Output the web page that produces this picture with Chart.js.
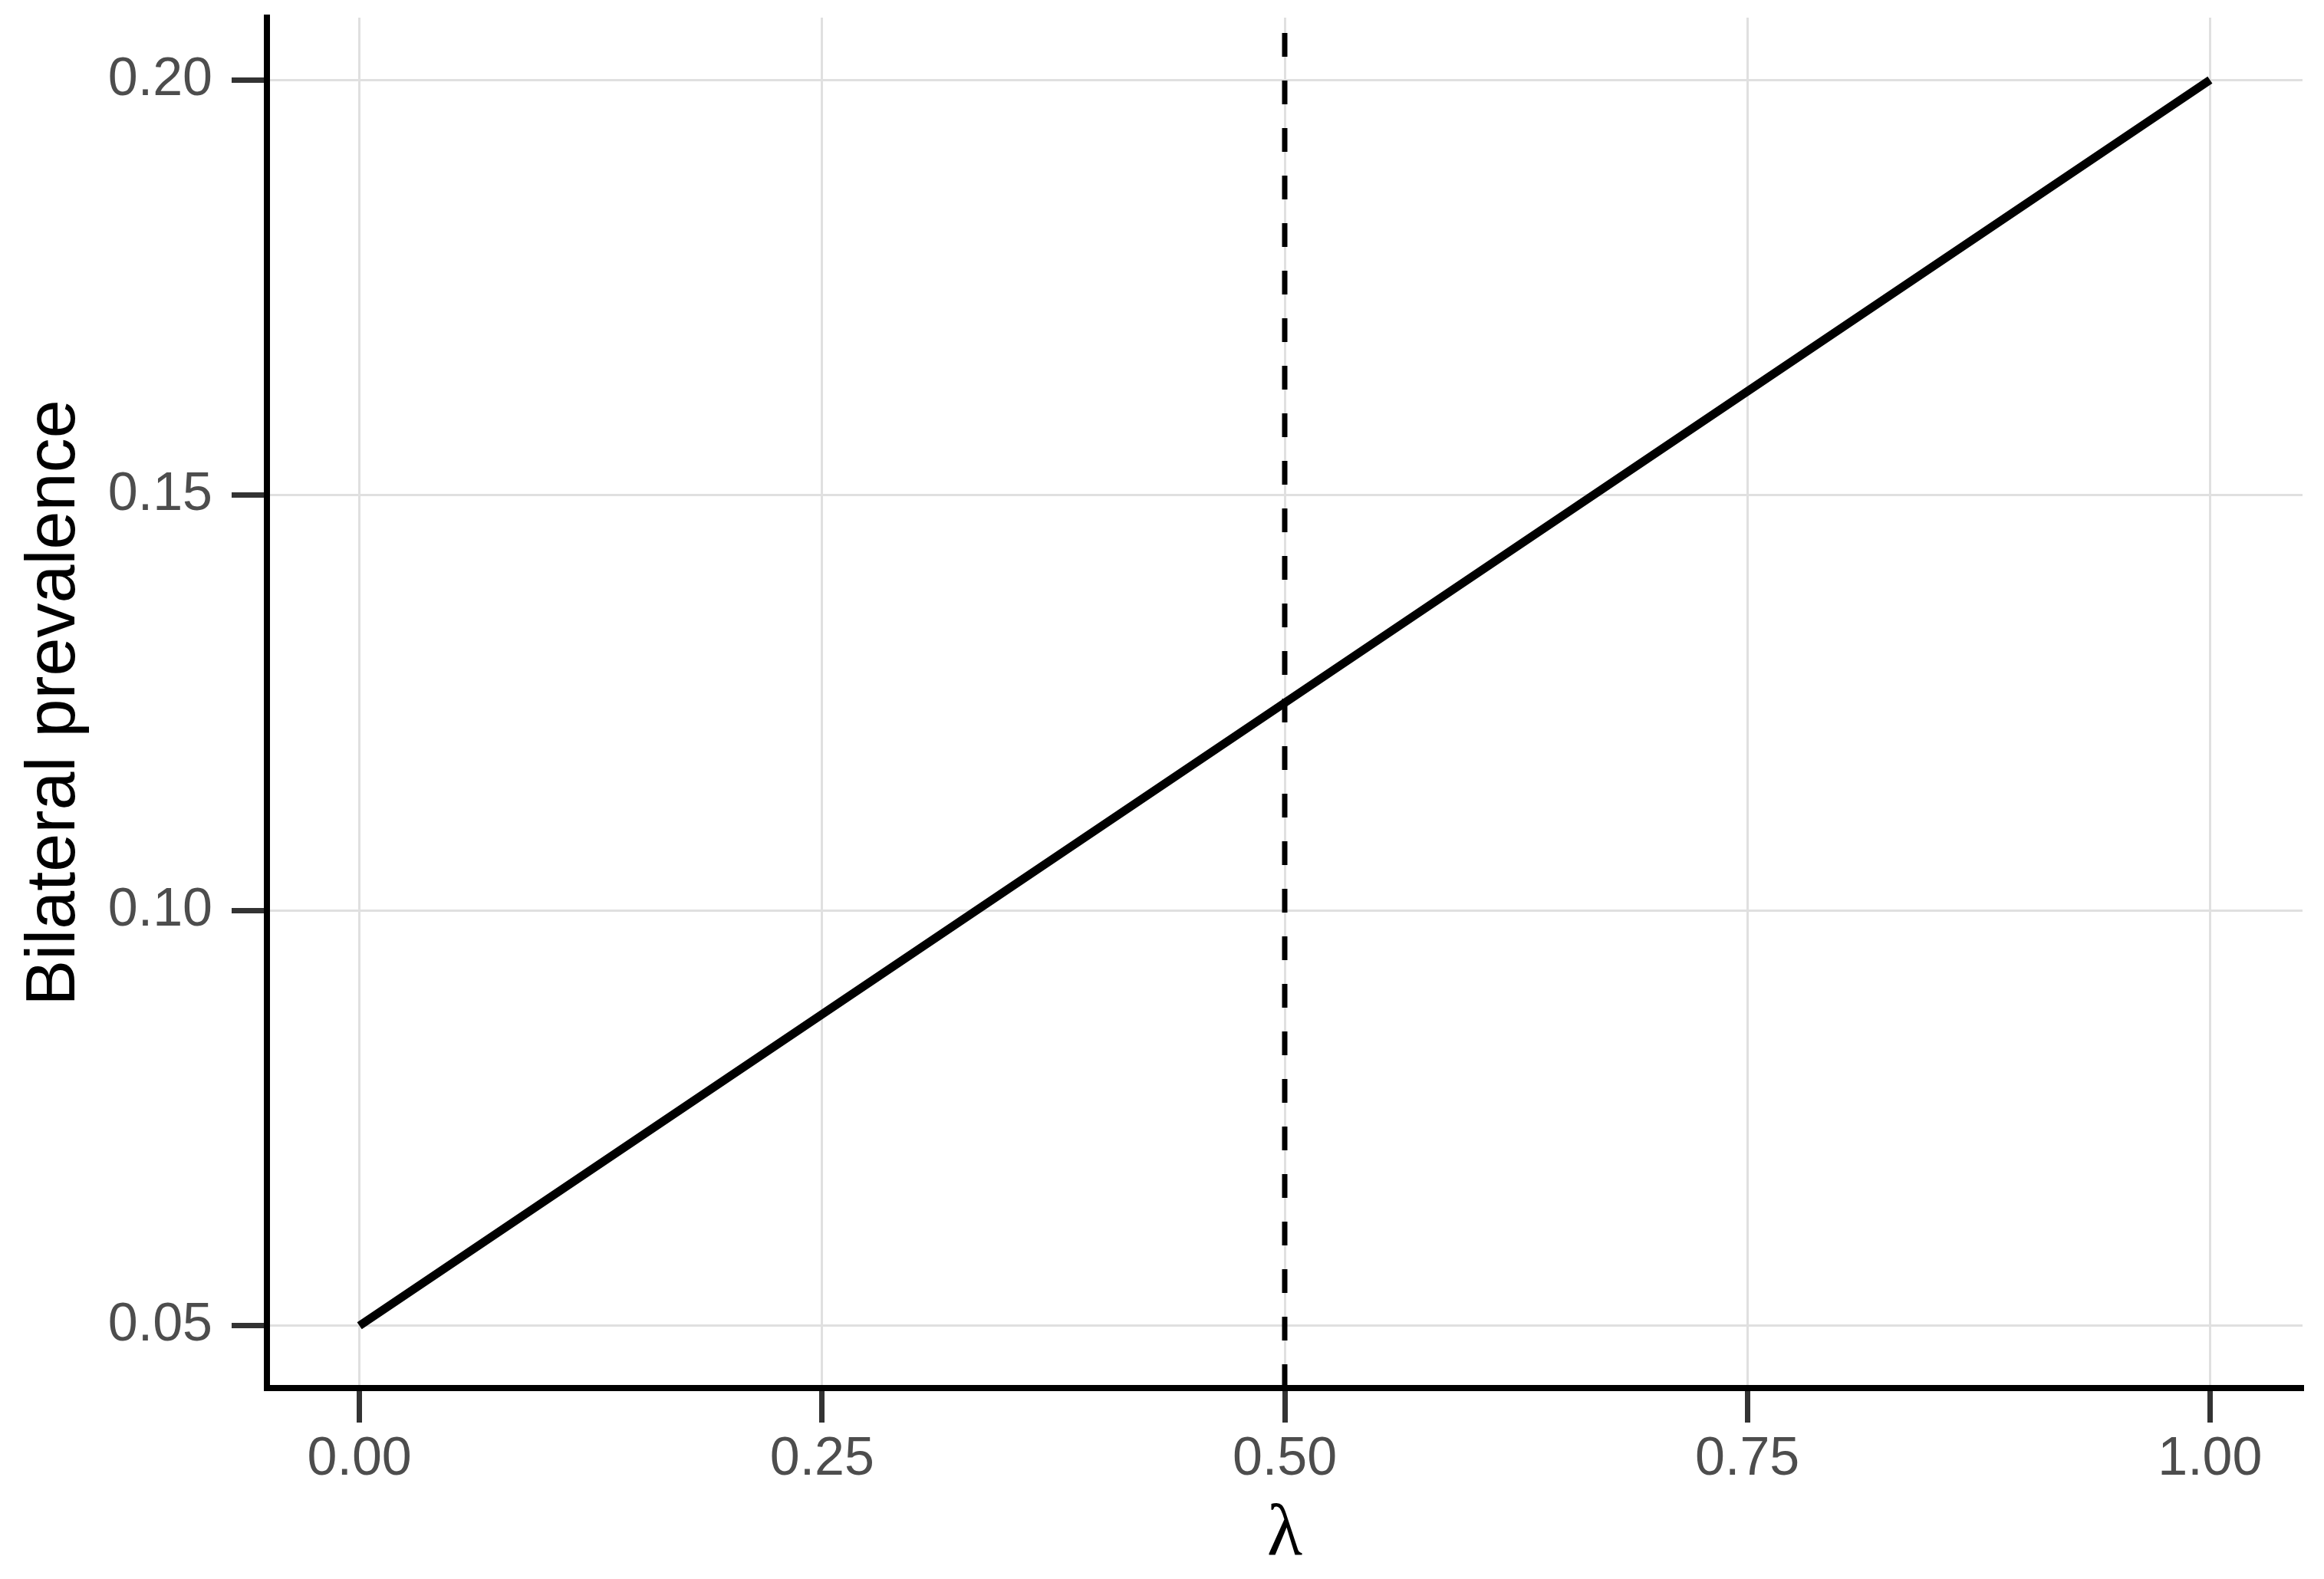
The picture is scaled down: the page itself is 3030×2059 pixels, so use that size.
<!DOCTYPE html>
<html>
<head>
<meta charset="utf-8">
<script src="https://cdn.jsdelivr.net/npm/chart.js@4.4.1/dist/chart.umd.min.js"></script>
<style>
  html, body { margin: 0; padding: 0; background: #ffffff; }
  #c { display: block; }
</style>
</head>
<body>
<canvas id="c" width="3030" height="2059"></canvas>
<script>
// ---- data ----
const lambdaValues = [0, 0.25, 0.5, 0.75, 1];
const bilateralPrevalence = [0.05, 0.0875, 0.125, 0.1625, 0.2];
const referenceLambda = [0.5];
const xTickValues = [0, 0.25, 0.5, 0.75, 1];
const xTickLabels = ["0.00", "0.25", "0.50", "0.75", "1.00"];
const yTickValues = [0.05, 0.10, 0.15, 0.20];
const yTickLabels = ["0.05", "0.10", "0.15", "0.20"];
const xLimits = [-0.05, 1.05];
const yLimits = [0.0425, 0.2075];

const linePoints = lambdaValues.map((v, i) => ({ x: v, y: bilateralPrevalence[i] }));
const vlinePoints = [
  { x: referenceLambda[0], y: yLimits[0] },
  { x: referenceLambda[0], y: yLimits[1] }
];

const tickFont = { family: "'Liberation Sans', Arial, sans-serif", size: 70 };

new Chart(document.getElementById('c'), {
  type: 'scatter',
  data: {
    datasets: [
      {
        data: vlinePoints,
        showLine: true,
        borderColor: '#000000',
        borderWidth: 7,
        borderDash: [31, 31],
        borderCapStyle: 'butt',
        pointRadius: 0,
        order: 2
      },
      {
        data: linePoints,
        showLine: true,
        borderColor: '#000000',
        borderWidth: 11,
        borderCapStyle: 'butt',
        pointRadius: 0,
        order: 1
      }
    ]
  },
  options: {
    responsive: false,
    animation: false,
    devicePixelRatio: 1,
    layout: { padding: { top: 23, right: 28, left: 0, bottom: 0 } },
    plugins: { legend: { display: false }, tooltip: { enabled: false } },
    scales: {
      x: {
        type: 'linear',
        position: 'bottom',
        min: xLimits[0],
        max: xLimits[1],
        afterBuildTicks: s => { s.ticks = xTickValues.map(v => ({ value: v })); },
        afterFit: s => { s.height = 249; s.paddingLeft = 0; s.paddingRight = 0; },
        ticks: {
          callback: (v, i) => xTickLabels[i],
          color: '#4d4d4d',
          font: tickFont,
          padding: 7,
          maxRotation: 0,
          autoSkip: false
        },
        grid: {
          color: '#e0e0e0',
          lineWidth: 3,
          tickColor: '#333333',
          tickWidth: 7,
          tickLength: 45
        },
        border: { color: '#000000', width: 8 },
        title: {
          display: true,
          text: 'λ',
          color: '#000000',
          font: { family: "'Liberation Serif', 'DejaVu Serif', serif", size: 95 },
          padding: { top: 0, bottom: 0 }
        }
      },
      y: {
        type: 'linear',
        position: 'left',
        min: yLimits[0],
        max: yLimits[1],
        afterBuildTicks: s => { s.ticks = yTickValues.map(v => ({ value: v })); },
        afterFit: s => { s.width = 348; s.paddingTop = 0; s.paddingBottom = 0; },
        ticks: {
          callback: (v, i) => yTickLabels[i],
          color: '#4d4d4d',
          font: tickFont,
          padding: 25,
          autoSkip: false
        },
        grid: {
          color: '#e0e0e0',
          lineWidth: 3,
          tickColor: '#333333',
          tickWidth: 7,
          tickLength: 46
        },
        border: { color: '#000000', width: 8 },
        title: {
          display: true,
          text: 'Bilateral prevalence',
          color: '#000000',
          font: { family: "'Liberation Sans', Arial, sans-serif", size: 90 },
          padding: { top: 18, bottom: 0 }
        }
      }
    }
  }
});
</script>
</body>
</html>
